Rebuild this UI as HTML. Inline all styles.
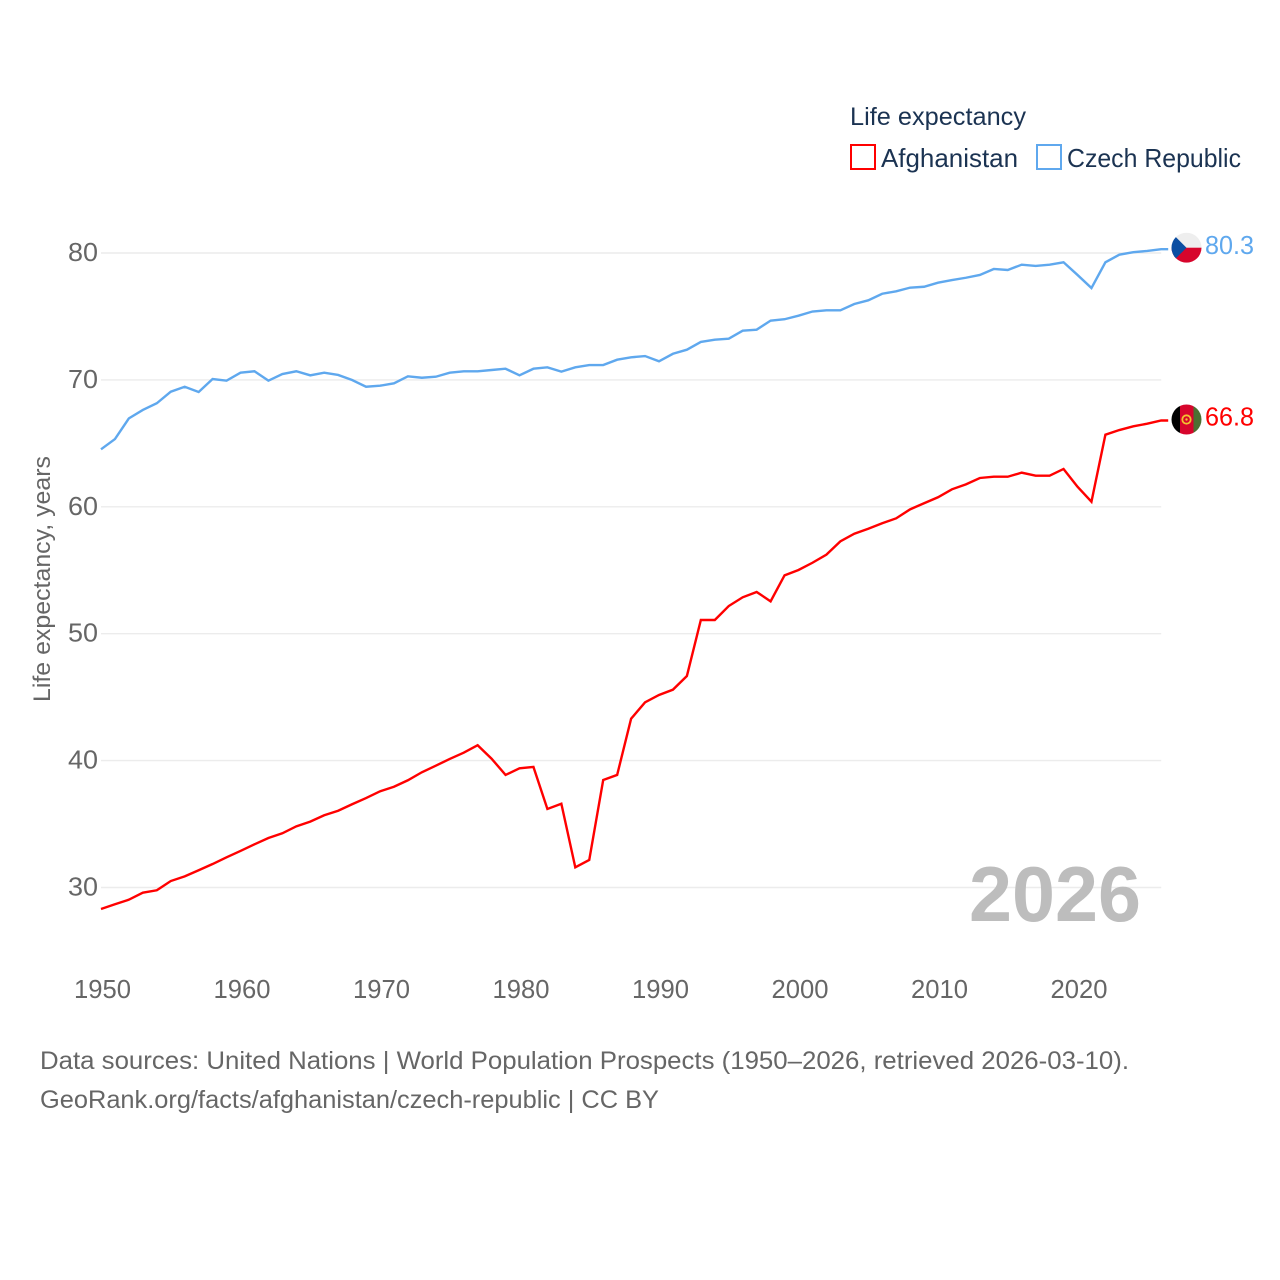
<!DOCTYPE html>
<html lang="en">
<head>
<meta charset="utf-8">
<title>Life expectancy: Afghanistan and Czech Republic</title>
<style>
html,body{margin:0;padding:0;background:#fff;width:1280px;height:1280px;overflow:hidden}
svg{display:block}
text{font-family:"Liberation Sans",sans-serif}
</style>
</head>
<body>
<svg id="chart" width="1280" height="1280" viewBox="0 0 1280 1280" xmlns="http://www.w3.org/2000/svg">
  <defs>
    <clipPath id="flag-clip"><circle cx="0" cy="0" r="15"></circle></clipPath>
  </defs>
  <rect x="0" y="0" width="1280" height="1280" fill="#ffffff"></rect>

  <g id="grid"></g>
  <g id="y-ticks"></g>
  <g id="x-ticks"></g>

  <text transform="translate(50,702) rotate(-90)" font-size="24" fill="#666666" textLength="246" lengthAdjust="spacingAndGlyphs">Life expectancy, years</text>

  <text x="969" y="921" font-size="78" font-weight="700" fill="#bdbdbd" textLength="172" lengthAdjust="spacingAndGlyphs">2026</text>

  <g id="series"></g>

  <g id="flag-czech">
    <g clip-path="url(#flag-clip)">
      <rect x="-15" y="-15" width="30" height="15" fill="#eeeeee"></rect>
      <rect x="-15" y="0" width="30" height="15" fill="#d7052c"></rect>
      <polygon points="-15,-15 0,0 -15,15" fill="#0b4ea2"></polygon>
    </g>
  </g>
  <g id="flag-afghanistan">
    <g clip-path="url(#flag-clip)">
      <rect x="-15" y="-15" width="8.5" height="30" fill="#000000"></rect>
      <rect x="-6.5" y="-15" width="13.5" height="30" fill="#d7052c"></rect>
      <rect x="7" y="-15" width="8" height="30" fill="#4c7032"></rect>
      <circle cx="0" cy="0" r="4.2" fill="none" stroke="#f2c230" stroke-width="1.8"></circle>
      <circle cx="0" cy="0" r="1.2" fill="#f2c230"></circle>
    </g>
  </g>
  <text id="value-czech" x="1205" font-size="26" fill="#5fa8ee" textLength="49" lengthAdjust="spacingAndGlyphs"></text>
  <text id="value-afghanistan" x="1205" font-size="26" fill="#ff0000" textLength="49" lengthAdjust="spacingAndGlyphs"></text>

  <g>
    <text x="850" y="125" font-size="25" fill="#1b3352" textLength="176" lengthAdjust="spacingAndGlyphs">Life expectancy</text>
    <g>
      <rect x="851" y="145" width="24" height="24" fill="#ffffff" stroke="#ff0000" stroke-width="2"></rect>
      <text x="881" y="167" font-size="26" fill="#1b3352" textLength="137" lengthAdjust="spacingAndGlyphs">Afghanistan</text>
    </g>
    <g>
      <rect x="1037" y="145" width="24" height="24" fill="#ffffff" stroke="#5fa8ee" stroke-width="2"></rect>
      <text x="1067" y="167" font-size="26" fill="#1b3352" textLength="174" lengthAdjust="spacingAndGlyphs">Czech Republic</text>
    </g>
  </g>

  <g>
    <text x="40" y="1069" font-size="25" fill="#666666" textLength="1089" lengthAdjust="spacingAndGlyphs">Data sources: United Nations | World Population Prospects (1950–2026, retrieved 2026-03-10).</text>
    <text x="40" y="1108" font-size="25" fill="#666666" textLength="619" lengthAdjust="spacingAndGlyphs">GeoRank.org/facts/afghanistan/czech-republic | CC BY</text>
  </g>
</svg>

<script>
const years = [1950,1951,1952,1953,1954,1955,1956,1957,1958,1959,1960,1961,1962,1963,1964,1965,1966,1967,1968,1969,1970,1971,1972,1973,1974,1975,1976,1977,1978,1979,1980,1981,1982,1983,1984,1985,1986,1987,1988,1989,1990,1991,1992,1993,1994,1995,1996,1997,1998,1999,2000,2001,2002,2003,2004,2005,2006,2007,2008,2009,2010,2011,2012,2013,2014,2015,2016,2017,2018,2019,2020,2021,2022,2023,2024,2025,2026];
const afghanistanValues = [28.31,28.68,29.04,29.59,29.78,30.51,30.88,31.36,31.85,32.38,32.88,33.40,33.90,34.27,34.82,35.19,35.69,36.05,36.56,37.05,37.58,37.94,38.45,39.08,39.60,40.13,40.62,41.21,40.15,38.87,39.39,39.50,36.19,36.60,31.59,32.17,38.47,38.87,43.30,44.59,45.17,45.59,46.67,51.08,51.08,52.18,52.87,53.29,52.55,54.60,55.02,55.59,56.23,57.28,57.88,58.27,58.70,59.09,59.80,60.28,60.75,61.38,61.77,62.27,62.37,62.37,62.69,62.45,62.45,62.98,61.58,60.40,65.68,66.05,66.34,66.55,66.8];
const czechValues = [64.53,65.34,66.97,67.63,68.16,69.07,69.46,69.05,70.07,69.94,70.57,70.68,69.94,70.46,70.68,70.36,70.57,70.39,69.99,69.46,69.54,69.73,70.28,70.17,70.25,70.57,70.68,70.68,70.78,70.88,70.36,70.88,70.99,70.65,70.99,71.17,71.17,71.59,71.78,71.88,71.47,72.06,72.38,72.99,73.17,73.25,73.88,73.96,74.67,74.78,75.06,75.39,75.48,75.48,75.98,76.27,76.79,76.98,77.27,77.34,77.66,77.87,78.05,78.27,78.74,78.66,79.08,78.98,79.08,79.27,78.27,77.24,79.27,79.87,80.06,80.16,80.3];
const yTickValues = [30,40,50,60,70,80];
const xTickValues = [1950,1960,1970,1980,1990,2000,2010,2020];

const NS = 'http://www.w3.org/2000/svg';
function xScale(year) { return 101 + (year - 1950) * 13.95; }
function yScale(value) { return 253 + (80 - value) * 12.69; }

const gridGroup = document.getElementById('grid');
const yTickGroup = document.getElementById('y-ticks');
const xTickGroup = document.getElementById('x-ticks');
const seriesGroup = document.getElementById('series');

yTickValues.forEach(function (tick) {
  const line = document.createElementNS(NS, 'line');
  
  
  line.setAttribute('x1', xScale(1950));
  line.setAttribute('x2', xScale(2026));
  line.setAttribute('y1', yScale(tick));
  line.setAttribute('y2', yScale(tick));
  line.setAttribute('stroke', '#ececec');
  line.setAttribute('stroke-width', '1.4');
  gridGroup.appendChild(line);

  const label = document.createElementNS(NS, 'text');
  
  
  label.setAttribute('x', '68');
  label.setAttribute('y', yScale(tick) + 8);
  label.setAttribute('font-size', '26');
  label.setAttribute('fill', '#666666');
  label.setAttribute('textLength', '30');
  label.setAttribute('lengthAdjust', 'spacingAndGlyphs');
  label.textContent = String(tick);
  yTickGroup.appendChild(label);
});

xTickValues.forEach(function (tick) {
  const label = document.createElementNS(NS, 'text');
  
  
  label.setAttribute('x', xScale(tick) - 27);
  label.setAttribute('y', '998');
  label.setAttribute('font-size', '26');
  label.setAttribute('fill', '#666666');
  label.setAttribute('textLength', '57');
  label.setAttribute('lengthAdjust', 'spacingAndGlyphs');
  label.textContent = String(tick);
  xTickGroup.appendChild(label);
});

function linePoints(values) {
  const pts = values.map(function (v, i) {
    return xScale(years[i]).toFixed(2) + ',' + yScale(v).toFixed(2);
  });
  const last = values[values.length - 1];
  pts.push((xScale(years[years.length - 1]) + 7).toFixed(2) + ',' + yScale(last).toFixed(2));
  return pts.join(' ');
}

const afghanistanLine = document.createElementNS(NS, 'polyline');


afghanistanLine.setAttribute('points', linePoints(afghanistanValues));
afghanistanLine.setAttribute('fill', 'none');
afghanistanLine.setAttribute('stroke', '#ff0000');
afghanistanLine.setAttribute('stroke-width', '2.4');
seriesGroup.appendChild(afghanistanLine);

const czechLine = document.createElementNS(NS, 'polyline');


czechLine.setAttribute('points', linePoints(czechValues));
czechLine.setAttribute('fill', 'none');
czechLine.setAttribute('stroke', '#5fa8ee');
czechLine.setAttribute('stroke-width', '2.4');
seriesGroup.appendChild(czechLine);

const lastCzech = czechValues[czechValues.length - 1];
const lastAfghanistan = afghanistanValues[afghanistanValues.length - 1];
document.getElementById('flag-czech').setAttribute('transform', 'translate(1186.5,' + (yScale(lastCzech) - 1.5) + ')');
document.getElementById('flag-afghanistan').setAttribute('transform', 'translate(1186.5,' + (yScale(lastAfghanistan) - 1) + ')');
const czechLabel = document.getElementById('value-czech');
czechLabel.setAttribute('y', yScale(lastCzech) + 5);
czechLabel.textContent = lastCzech.toFixed(1);
const afghanistanLabel = document.getElementById('value-afghanistan');
afghanistanLabel.setAttribute('y', yScale(lastAfghanistan) + 5);
afghanistanLabel.textContent = lastAfghanistan.toFixed(1);
</script>
</body>
</html>
